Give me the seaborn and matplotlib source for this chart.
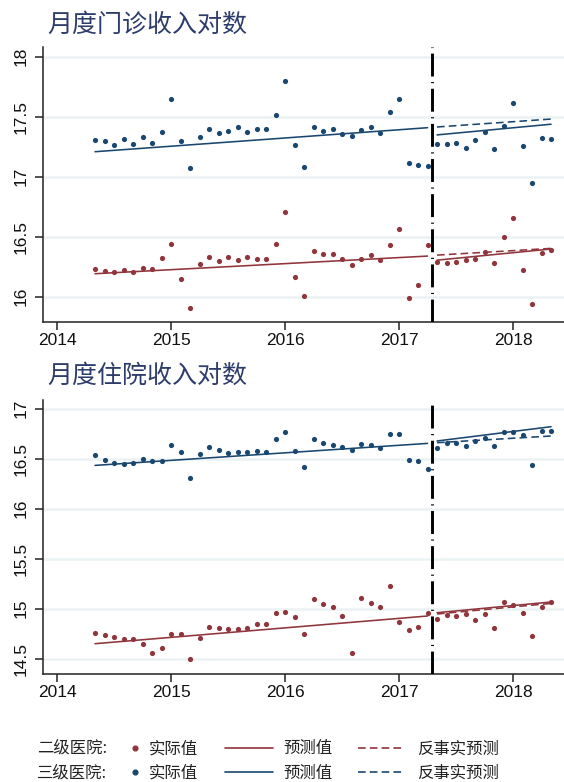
import matplotlib
matplotlib.use("Agg")
import matplotlib.pyplot as plt
from matplotlib.lines import Line2D
import numpy as np
import pandas as pd
import seaborn as sns

sns.set_style("white")
plt.rcParams["font.family"] = ["Liberation Sans", "Noto Sans CJK SC"]
plt.rcParams["lines.scale_dashes"] = False

# monthly time axis: May 2014 .. May 2018 (decimal years)
months = pd.period_range("2014-05", "2018-05", freq="M")
t = np.array([p.year + (p.month - 1) / 12 for p in months])
reform = 2017 + 3.5 / 12  # between Apr and May 2017

# 月度门诊收入对数
outp_l3 = [17.306, 17.295, 17.267, 17.31, 17.275, 17.33, 17.28, 17.37, 17.65, 17.295,
           17.07, 17.33, 17.395, 17.364, 17.378, 17.41, 17.372, 17.395, 17.395, 17.51,
           17.795, 17.264, 17.08, 17.414, 17.383, 17.397, 17.353, 17.339, 17.389, 17.41,
           17.364, 17.54, 17.645, 17.114, 17.10, 17.092,
           17.273, 17.273, 17.278, 17.242, 17.306, 17.37, 17.233, 17.42, 17.61, 17.258,
           16.945, 17.32, 17.31]
outp_l2 = [16.231, 16.217, 16.203, 16.225, 16.21, 16.242, 16.231, 16.322, 16.44, 16.145,
           15.908, 16.272, 16.33, 16.295, 16.33, 16.306, 16.33, 16.314, 16.311, 16.437,
           16.706, 16.167, 16.008, 16.383, 16.353, 16.358, 16.317, 16.261, 16.314, 16.347,
           16.308, 16.433, 16.564, 15.992, 16.10, 16.431,
           16.287, 16.281, 16.289, 16.308, 16.311, 16.37, 16.283, 16.497, 16.656, 16.222,
           15.94, 16.364, 16.392]

# 月度住院收入对数
inp_l3 = [16.54, 16.487, 16.457, 16.443, 16.453, 16.497, 16.473, 16.477, 16.633, 16.563,
          16.303, 16.543, 16.62, 16.587, 16.557, 16.57, 16.563, 16.58, 16.567, 16.697,
          16.767, 16.58, 16.413, 16.697, 16.653, 16.637, 16.613, 16.583, 16.65, 16.633,
          16.61, 16.743, 16.747, 16.487, 16.477, 16.397,
          16.61, 16.66, 16.66, 16.627, 16.68, 16.71, 16.627, 16.767, 16.767, 16.737,
          16.44, 16.777, 16.78]
inp_l2 = [14.76, 14.733, 14.72, 14.697, 14.693, 14.643, 14.557, 14.607, 14.75, 14.743,
          14.493, 14.71, 14.82, 14.81, 14.797, 14.793, 14.807, 14.847, 14.847, 14.96,
          14.967, 14.917, 14.747, 15.10, 15.047, 15.013, 14.923, 14.553, 15.107, 15.053,
          15.017, 15.23, 14.863, 14.787, 14.813, 14.957,
          14.90, 14.94, 14.927, 14.943, 14.883, 14.943, 14.807, 15.063, 15.033, 14.957,
          14.727, 15.02, 15.067]

# fitted values at start / end of each segment: pre, post, counterfactual
outp_l3_fit = {"pre": [17.208, 17.408], "post": [17.348, 17.437], "cf": [17.414, 17.480]}
outp_l2_fit = {"pre": [16.192, 16.339], "post": [16.305, 16.398], "cf": [16.347, 16.403]}
inp_l3_fit = {"pre": [16.433, 16.653], "post": [16.677, 16.820], "cf": [16.660, 16.727]}
inp_l2_fit = {"pre": [14.650, 14.927], "post": [14.960, 15.067], "cf": [14.947, 15.053]}

navy = "#1a476f"
maroon = "#90353b"
title_col = "#2d3c6b"
dash_cf = (0, (5.5, 3.0))

fig = plt.figure(figsize=(5.64, 7.82), dpi=100)
ax1 = fig.add_axes([43 / 564, 1 - 322 / 782, 521 / 564, 275 / 782])
ax2 = fig.add_axes([43 / 564, 1 - 674 / 782, 521 / 564, 274 / 782])

panels = [
    (ax1, outp_l2, outp_l3, outp_l2_fit, outp_l3_fit, (15.79, 18.08), [16, 16.5, 17, 17.5, 18]),
    (ax2, inp_l2, inp_l3, inp_l2_fit, inp_l3_fit, (14.347, 17.087), [14.5, 15, 15.5, 16, 16.5, 17]),
]

seg_x = {"pre": [t[0], t[35]], "post": [t[36], t[48]], "cf": [t[36], t[48]]}

for ax, y2, y3, f2, f3, ylim, yt in panels:
    for vals, fit, col in [(y3, f3, navy), (y2, f2, maroon)]:
        sns.scatterplot(x=t, y=vals, color=col, s=14, linewidth=0, ax=ax, zorder=3)
        for seg in ["pre", "post", "cf"]:
            sns.lineplot(x=seg_x[seg], y=fit[seg], color=col, lw=1.15, ax=ax, zorder=3,
                         linestyle=dash_cf if seg == "cf" else "-")
    ax.axvline(reform, color="black", lw=2.1, linestyle=(0, (16.5, 4.0, 0.8, 4.0)), zorder=4)
    ax.set_xlim(2013.877, 2018.447)
    ax.set_ylim(*ylim)
    ax.set_yticks(yt)
    ax.set_yticklabels([f"{v:g}" for v in yt], rotation=90, va="center")
    ax.set_xticks([2014, 2015, 2016, 2017, 2018])
    ax.grid(axis="y", color="#eaf2f3", lw=1.8, zorder=0)
    ax.set_axisbelow(True)
    for s in ["top", "right"]:
        ax.spines[s].set_visible(False)
    for s in ["left", "bottom"]:
        ax.spines[s].set_color("#222222")
        ax.spines[s].set_linewidth(1.1)
    ax.tick_params(axis="both", direction="out", length=6, width=1.1, color="#222222",
                   labelsize=12.5, labelcolor="#111111", pad=3)
    ax.tick_params(axis="x", bottom=True, pad=2)
    ax.tick_params(axis="y", left=True, pad=4)

fig.text(47 / 564, 1 - 25 / 782, "月度门诊收入对数", fontsize=18, color=title_col,
         va="center", family=["Noto Sans CJK SC"])
fig.text(47 / 564, 1 - 376 / 782, "月度住院收入对数", fontsize=18, color=title_col,
         va="center", family=["Noto Sans CJK SC"])

# legend: row labels + three key columns
leg_font = {"family": ["Noto Sans CJK SC"], "size": 11.8}
for row_y, lab in [(748, "二级医院:"), (773, "三级医院:")]:
    fig.text(37 / 564, 1 - row_y / 782, lab, fontsize=11.8, color="#222222",
             va="center", family=["Noto Sans CJK SC"])

key_cols = [
    ("实际值", dict(marker="o", ms=3.4, lw=0), 128.6, 0.8, 0.45),
    ("预测值", dict(lw=1.2, ls="-"), 225, 2.9, 0.65),
    ("反事实预测", dict(lw=1.2, ls=dash_cf), 358, 2.75, 0.85),
]
for lab, style, x0, hl, hp in key_cols:
    handles = [Line2D([], [], color=maroon, **style), Line2D([], [], color=navy, **style)]
    leg = fig.legend(handles, [lab, lab], loc="center left",
                     bbox_to_anchor=(x0 / 564, 1 - 761 / 782), bbox_transform=fig.transFigure,
                     frameon=False, prop=leg_font, handlelength=hl, handletextpad=hp,
                     borderpad=0, borderaxespad=0, labelspacing=0.45, numpoints=1,
                     labelcolor="#222222")

fig.savefig("out.png", dpi=100)
